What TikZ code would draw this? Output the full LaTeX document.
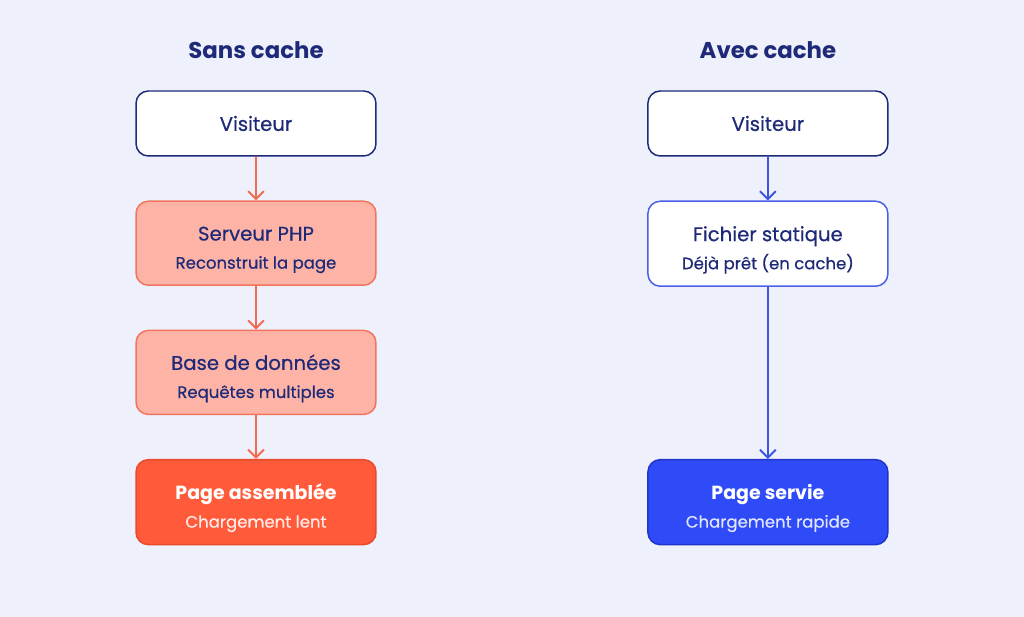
\documentclass[tikz,border=0pt]{standalone}
\usepackage{fontspec}
\setmainfont{Poppins}[UprightFeatures={FakeBold=0.5}]
\usetikzlibrary{arrows.meta,positioning}

\definecolor{bgcol}{HTML}{EEF0FB}
\definecolor{navy}{HTML}{1E2A78}
\definecolor{salmonfill}{HTML}{FDB3A6}
\definecolor{salmonline}{HTML}{F2765F}
\definecolor{redfill}{HTML}{FF5B3A}
\definecolor{redline}{HTML}{E84A2B}
\definecolor{bluefill}{HTML}{2E4BF7}
\definecolor{blueline}{HTML}{2035C8}
\definecolor{blueedge}{HTML}{4A60E8}
\definecolor{redarrow}{HTML}{F26A4F}
\definecolor{bluearrow}{HTML}{3B55E3}

% two-line label: main line, then a smaller line
\newcommand{\twolines}[2]{\rule{0pt}{15.5pt}#1\\[2pt]{\fontsize{9.4}{10}\selectfont #2}}
\newcommand{\boldlabel}[1]{{\fontsize{10.8}{14}\selectfont\bfseries #1}}

\begin{document}
\begin{tikzpicture}[
        x=0.02cm, y=-0.02cm,
        >={Straight Barb[length=4.5pt,width=9pt]},
        node distance=0.875cm,
        title/.style={font=\fontsize{13}{15}\selectfont\bfseries, text=navy, inner sep=0pt},
        box/.style={draw, rounded corners=7pt, align=center, line width=0.85pt,
            minimum width=4.8cm, text=navy, font=\fontsize{11.2}{14}\selectfont},
        whitebox/.style={box, fill=white, draw=navy, minimum height=1.3cm},
        slowbox/.style={box, fill=salmonfill, draw=salmonline, minimum height=1.68cm},
        endslow/.style={box, fill=redfill, draw=redline, text=white, minimum height=1.7cm},
        fastbox/.style={box, fill=white, draw=blueedge, minimum height=1.7cm},
        endfast/.style={box, fill=bluefill, draw=blueline, text=white, minimum height=1.7cm},
        arrow/.style={->, line width=1.1pt}
    ]
        % background and page size
        \fill[bgcol] (0,0) rectangle (1024,617);

        % sans cache
        \node[whitebox] (visL) at (256,123.5) {Visiteur};
        \node[title, above=0.62cm of visL] (titleL) {Sans cache};
        \node[slowbox, below=of visL] (php) {\twolines{Serveur PHP}{Reconstruit la page}};
        \node[slowbox, below=of php] (db) {\twolines{Base de données}{Requêtes multiples}};
        \node[endslow, below=of db] (assembled) {\twolines{\boldlabel{Page assemblée}}{\color{white!88!redfill}Chargement lent}};

        % avec cache
        \node[whitebox, right=5.41cm of visL] (visR) {Visiteur};
        \node[title, above=0.62cm of visR] (titleR) {Avec cache};
        \node[fastbox, below=of visR] (static) {\twolines{Fichier statique}{Déjà prêt (en cache)}};
        \node[endfast, right=5.41cm of assembled] (served) {\twolines{\boldlabel{Page servie}}{\color{white!85!bluefill}Chargement rapide}};

        \draw[arrow, redarrow] (visL) -- (php);
        \draw[arrow, redarrow] (php) -- (db);
        \draw[arrow, redarrow] (db) -- (assembled);
        \draw[arrow, bluearrow] (visR) -- (static);
        \draw[arrow, bluearrow] (static) -- (served);
    \end{tikzpicture}
\end{document}
